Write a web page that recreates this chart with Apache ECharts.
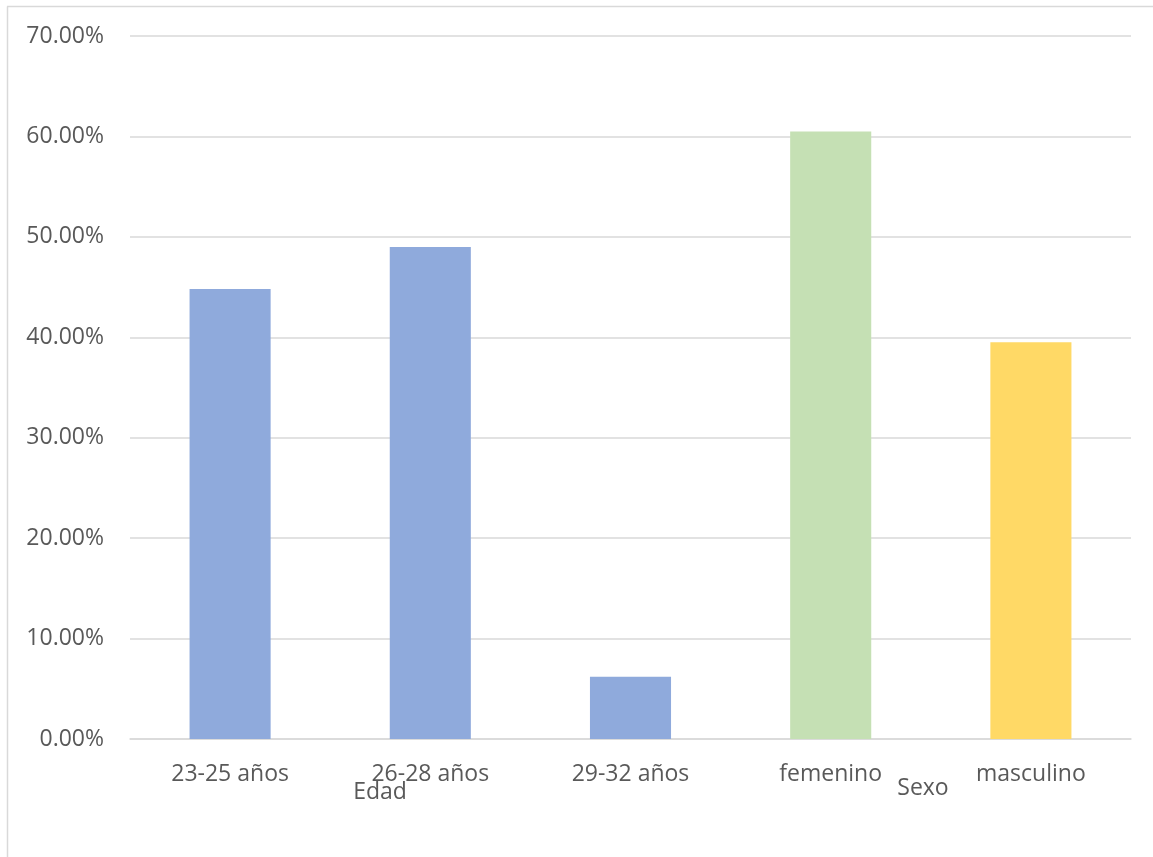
<!DOCTYPE html>
<html>
<head>
<meta charset="utf-8">
<script src="https://cdn.jsdelivr.net/npm/echarts@6/dist/echarts.min.js"></script>
<style>
html,body{margin:0;padding:0;background:#fff;}
#chart{width:1153px;height:857px;}
</style>
</head>
<body>
<div id="chart"></div>
<script>
// Data
var categories = ['23-25 años', '26-28 años', '29-32 años', 'femenino', 'masculino'];
var values = [44.8, 49.0, 6.2, 60.5, 39.5];
var groupLabels = ['Edad', 'Sexo'];
var barColors = ['#8FAADC', '#8FAADC', '#8FAADC', '#C5E0B4', '#FFD966'];

var FONT = '"Open Sans", sans-serif';
var TXT = '#595959';
var GRID = '#D9D9D9';

var chart = echarts.init(document.getElementById('chart'), null, {renderer: 'canvas'});
var option = {
  backgroundColor: '#ffffff',
  animation: false,
  grid: {left: 130, right: 22, top: 36, bottom: 118, containLabel: false},
  xAxis: {
    type: 'category',
    data: categories,
    axisLine: {show: true, lineStyle: {color: GRID, width: 1.5}},
    axisTick: {show: false},
    axisLabel: {color: TXT, fontFamily: FONT, fontSize: 23, margin: 24}
  },
  yAxis: {
    type: 'value',
    min: 0, max: 70, interval: 10,
    axisLine: {show: false},
    axisTick: {show: false},
    splitLine: {lineStyle: {color: GRID, width: 1.5}},
    axisLabel: {
      color: TXT, fontFamily: FONT, fontSize: 23, margin: 26,
      formatter: function (v) { return v.toFixed(2) + '%'; }
    }
  },
  series: [{
    type: 'bar',
    barWidth: '40.5%',
    data: values.map(function (v, i) {
      return {value: v, itemStyle: {color: barColors[i]}};
    })
  }],
  graphic: [
    {type: 'line', shape: {x1: 7, y1: 6.5, x2: 1153, y2: 6.5}, style: {stroke: GRID, lineWidth: 1.5}},
    {type: 'line', shape: {x1: 7.5, y1: 6.5, x2: 7.5, y2: 857}, style: {stroke: GRID, lineWidth: 1.5}},
    {type: 'text', x: 380, y: 792, style: {text: groupLabels[0], fill: TXT, font: '23px ' + FONT, textAlign: 'center', textVerticalAlign: 'middle'}},
    {type: 'text', x: 923, y: 788, style: {text: groupLabels[1], fill: TXT, font: '23px ' + FONT, textAlign: 'center', textVerticalAlign: 'middle'}}
  ]
};
chart.setOption(option);
</script>
</body>
</html>
